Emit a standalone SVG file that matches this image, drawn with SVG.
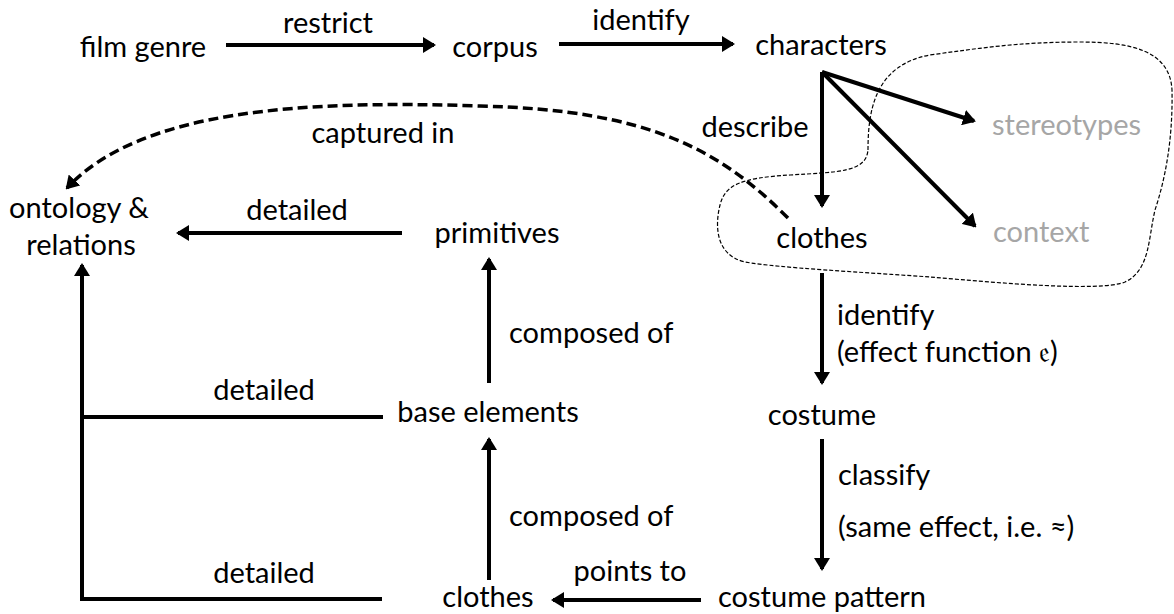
<svg xmlns="http://www.w3.org/2000/svg" width="1174" height="614" viewBox="0 0 1174 614">
<style>
text{font-family:Lato,"Open Sans","DejaVu Sans",sans-serif;font-size:29px;fill:#000}
.gray{fill:#a6a6a6}
.c{stroke:#000;stroke-width:4;fill:none}
.dash{stroke-width:3.5;stroke-dasharray:10 5}
.blob{stroke:#000;stroke-width:1.2;fill:none;stroke-dasharray:4 2}
</style>
<defs>
<marker id="ah" viewBox="0 0 13 16" markerUnits="userSpaceOnUse" markerWidth="13" markerHeight="16" refX="11" refY="8" orient="auto">
<path d="M0,0 L13,8 L0,16 Z" fill="#000"/>
</marker>
</defs>
<path class="blob" d="M868,150 C868,110 875,65 930,55 C980,48 1020,42 1080,42 C1130,42 1170,50 1172,90 C1173,140 1165,180 1155,210 C1148,240 1150,270 1125,282 C1100,292 1000,283 930,277 C860,272 780,268 745,262 C715,255 715,225 720,205 C725,185 740,178 790,175 C840,172 866,172 868,150 Z"/>
<g id="connectors">
<path class="c" d="M226,45 L434,45" marker-end="url(#ah)"/>
<path class="c" d="M559,44 L733,44" marker-end="url(#ah)"/>
<path class="c" d="M822,72 L822,206" marker-end="url(#ah)"/>
<path class="c" d="M822,72 L974,121" marker-end="url(#ah)"/>
<path class="c" d="M822,72 L975,226" marker-end="url(#ah)"/>
<path class="c" d="M822,273 L822,383" marker-end="url(#ah)"/>
<path class="c" d="M822,439 L822,569" marker-end="url(#ah)"/>
<path class="c" d="M701,600 L553,600" marker-end="url(#ah)"/>
<path class="c" d="M489,580 L489,439" marker-end="url(#ah)"/>
<path class="c" d="M489,383 L489,259" marker-end="url(#ah)"/>
<path class="c" d="M402,233 L178,233" marker-end="url(#ah)"/>
<path class="c" d="M383,417 L82,417"/>
<path class="c" d="M382,599 L82,599 L82,265" marker-end="url(#ah)"/>
<path class="c dash" d="M788,218 C720,150 650,110 480,106 C300,100 140,110 67,188" marker-end="url(#ah)"/>
</g>
<g id="edge-labels">
<text x="328" y="33" text-anchor="middle">restrict</text>
<text x="641" y="30" text-anchor="middle">identify</text>
<text x="755" y="137" text-anchor="middle">describe</text>
<text x="383" y="143" text-anchor="middle">captured in</text>
<text x="297" y="220" text-anchor="middle">detailed</text>
<text x="264" y="400" text-anchor="middle">detailed</text>
<text x="264" y="583" text-anchor="middle">detailed</text>
<text x="509" y="343">composed of</text>
<text x="509" y="526">composed of</text>
<text x="630" y="581" text-anchor="middle">points to</text>
<text x="837" y="325">identify</text>
<text x="837" y="362">(effect function 𝔢)</text>
<text x="838" y="485">classify</text>
<text x="838" y="537">(same effect, i.e. ≈)</text>
</g>
<g id="film-genre"><text x="143" y="57" text-anchor="middle">film genre</text></g>
<g id="corpus"><text x="495" y="57" text-anchor="middle">corpus</text></g>
<g id="characters"><text x="821" y="55" text-anchor="middle">characters</text></g>
<g id="stereotypes"><text class="gray" x="992" y="135">stereotypes</text></g>
<g id="context"><text class="gray" x="993" y="242">context</text></g>
<g id="clothes-top"><text x="822" y="248" text-anchor="middle">clothes</text></g>
<g id="ontology"><text x="79" y="218" text-anchor="middle">ontology &amp;</text><text x="81" y="255" text-anchor="middle">relations</text></g>
<g id="primitives"><text x="497" y="243" text-anchor="middle">primitives</text></g>
<g id="base-elements"><text x="488" y="422" text-anchor="middle">base elements</text></g>
<g id="clothes-bottom"><text x="488" y="607" text-anchor="middle">clothes</text></g>
<g id="costume"><text x="822" y="425" text-anchor="middle">costume</text></g>
<g id="costume-pattern"><text x="718" y="607">costume pattern</text></g>
</svg>
